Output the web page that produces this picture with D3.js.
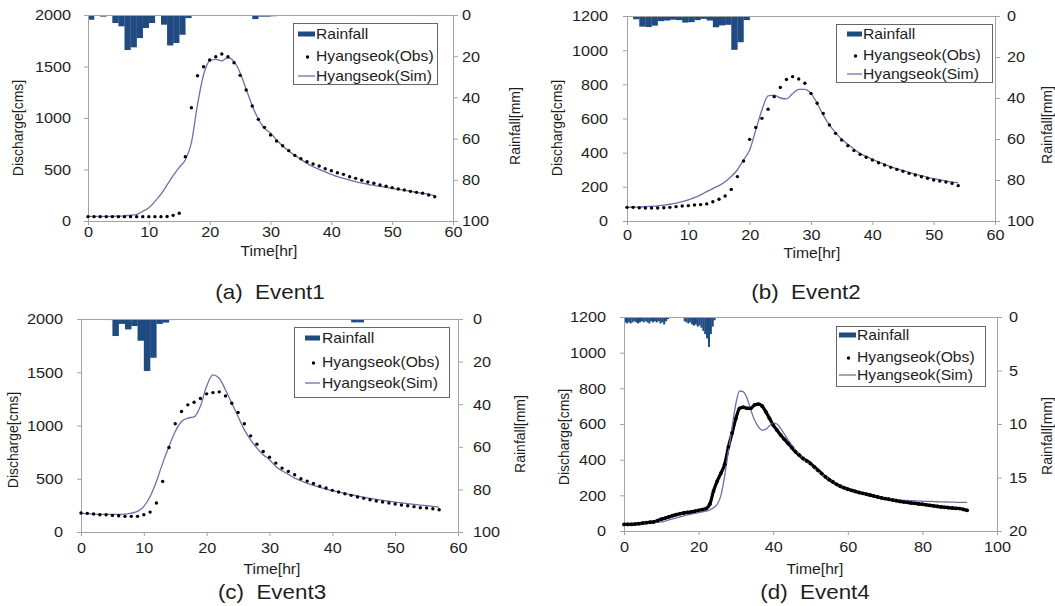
<!DOCTYPE html>
<html><head><meta charset="utf-8">
<script src="https://cdn.jsdelivr.net/npm/d3@7"></script>
<style>
body{margin:0;background:#fff;}
svg text{font-family:"Liberation Sans",Arial,sans-serif;fill:#1e1e1e;white-space:pre;}
</style></head><body>
<svg id="c" width="1055" height="606"></svg>
<script>
// ---------------- DATA ----------------
const legendLabels = ["Rainfall", "Hyangseok(Obs)", "Hyangseok(Sim)"];
const subTitles = ["(a)  Event1", "(b)  Event2", "(c)  Event3", "(d)  Event4"];
const xTitle = "Time[hr]", yTitle = "Discharge[cms]", rTitle = "Rainfall[mm]";
const qTicks2000 = [0, 500, 1000, 1500, 2000];
const qTicks1200 = [0, 200, 400, 600, 800, 1000, 1200];
const tTicks60 = [0, 10, 20, 30, 40, 50, 60];
const tTicks100 = [0, 20, 40, 60, 80, 100];
const rTicks100 = [0, 20, 40, 60, 80, 100];
const rTicks20 = [0, 5, 10, 15, 20];

// Event1 (hourly from 0 hr)
const e1Rain = [2.3,0,0.8,0.2,3.9,5.5,17.0,15.7,11.2,6.3,3.9,0,4.7,14.8,13.6,9.6,1.5,0.2,0,0,0.4,0.2,0,0.2,0.3,0.2,0,2.0,0.8,0.8,0.6,0.3,
  0,0,0,0,0,0,0,0,0,0,0,0,0,0,0,0,0,0,0,0,0,0,0.5,0.5,0.5,0.4,0.3];
const e1Obs = [42,42,42,42,42,42,42,42,42,42,42,42,42,44,55,75,625,1100,1410,1498,1563,1595,1621,1595,1537,1414,1272,1116,987,909,
  835,777,731,683,637,605,576,553,534,508,489,469,453,430,414,395,379,366,350,337,324,311,301,288,278,269,252,236];
const e1Sim = [45,45,45,45,46,47,50,56,65,95,128,190,260,350,440,520,595,760,1130,1420,1555,1570,1555,1585,1550,1440,1280,1120,990,900,
  855,786,728,680,637,599,560,527,501,476,453,430,414,398,382,369,356,346,337,327,317,307,298,288,278,269,259,246];

// Event2
const e2Rain = [0.4,1.6,5.2,5.4,4.7,2.5,2.2,1.8,2.0,3.2,3.0,2.0,1.4,2.2,5.5,4.6,4.3,16.5,12.8,2.0,0.5,0.2,0.2];
const e2Obs = [80,80,77,76,76,76,78,80,84,88,90,94,96,100,113,127,146,185,260,351,478,548,601,654,728,782,829,845,831,806,
  747,689,630,562,513,474,441,412,390,373,357,341,328,314,302,291,279,269,259,250,240,234,228,220,207];
const e2Sim = [80,81,82,84,86,88,93,98,105,113,124,137,153,172,190,207,230,260,300,357,416,533,650,732,737,720,715,745,771,771,
  747,689,620,562,517,478,449,421,396,378,361,346,332,318,306,295,285,275,265,256,248,241,234,229,224];

// Event3
const e3Rain = [0,0,0,0.3,0.5,8.0,2.3,4.9,3.3,10.2,24.4,18.2,2.3,1.7,0.5,0.2,
  0,0,0,0,0,0,0,0,0,0,0,0,0,0,0,0,0,0,0,0,0,0,0,0,0,0,0,1.6,1.6,0];
const e3Obs = [178,175,169,162,162,156,153,147,147,147,162,187,272,475,794,1016,1131,1194,1219,1253,1297,1309,1316,1278,1209,1122,1016,903,825,756,
  703,647,600,569,538,500,478,456,431,413,391,375,359,344,328,316,303,291,281,272,263,253,247,238,228,225,219,209];
const e3Sim = [178,172,168,166,165,165,166,168,178,194,240,334,475,647,803,944,1038,1070,1080,1180,1370,1475,1444,1334,1209,1084,959,866,788,725,
  678,616,575,541,506,481,456,438,419,403,388,375,363,350,338,327,316,306,297,289,281,273,266,259,253,247,241,234];

// Event4 (rainfall every 0.5 hr, discharge hourly)
const e4RainStep = 0.5;
const e4Rain = [0.5,0.6,0.5,0.6,0.5,0.4,0.5,0.6,0.5,0.4,0.5,0.4,0.5,0.6,0.4,0.5,0.4,0.5,0.4,0.6,0.5,0.7,0.4,0.2,
  0.1,0.1,0,0.05,0,0,0,0,
  0.4,0.5,0.6,0.5,0.7,0.8,0.7,0.9,0.8,1.0,1.3,1.6,2.0,2.8,1.6,0.9,0.3];
const e4Obs = [37,37,37,39,41,44,47,49,51,58,66,72,79,86,92,97,101,104,107,111,116,120,126,150,225,280,325,375,472,550,
  632,688,694,688,688,707,712,701,669,632,594,566,538,514,491,467,444,425,407,393,379,360,341,322,304,288,275,262,251,242,
  234,228,222,216,211,206,201,196,191,186,182,178,174,170,166,163,160,157,155,152,150,147,144,141,138,135,133,131,129,127,126,121,116];
const e4Sim = [37,37,37,38,39,41,43,45,48,50,51,56,62,68,74,79,85,90,95,99,103,107,112,118,130,150,200,310,450,585,
  715,785,780,744,679,622,585,566,570,590,605,600,576,543,510,482,454,430,407,388,369,350,332,318,304,290,278,265,252,240,
  229,224,218,213,208,204,200,196,192,189,186,183,180,177,175,172,171,170,169,168,167,166,166,165,164,163,163,162,162,161,161,161,161];

// ---------------- DRAWING ----------------
const svg = d3.select("#c");
const SX = 1.12;
const RAIN = "#1f4b80", SIM = "#7d69a8", AX = "#a3a3a3";
const fmt = d3.format("d");

function stext(x, y, str, size, anchor, sx) {
  return svg.append("text")
    .attr("transform", `translate(${x},${y}) scale(${sx || SX},1)`)
    .attr("text-anchor", anchor || "start")
    .attr("xml:space", "preserve")
    .style("font-size", size + "px").text(str);
}
function vtext(cx, cy, str, size) {
  return svg.append("text")
    .attr("transform", `translate(${cx + size * 0.35},${cy}) rotate(-90)`)
    .attr("text-anchor", "middle").style("font-size", size + "px").text(str);
}

function panel(c, rain, rainStep, obs, sim, thickObs) {
  const g = svg.append("g");
  const x = d3.scaleLinear().domain([0, c.xMax]).range([c.L, c.R]);
  const y = d3.scaleLinear().domain([0, c.yMax]).range([c.B, c.T]);
  const yr = d3.scaleLinear().domain([0, c.rMax]).range([c.T, c.B]);

  // rainfall bars hanging from top
  g.append("g").selectAll("rect").data(rain).join("rect")
    .attr("x", (v, i) => x(i * rainStep))
    .attr("width", (v, i) => x((i + 1) * rainStep) - x(i * rainStep) + 0.2)
    .attr("y", c.T).attr("height", v => yr(v) - c.T)
    .attr("fill", RAIN);

  // axes
  const fontSz = 14.5;
  const ax = (sel) => {
    sel.attr("font-family", null).attr("font-size", null);
    sel.selectAll("path.domain").attr("stroke", AX);
    sel.selectAll(".tick line").attr("stroke", AX);
    sel.selectAll(".tick text").style("font-size", fontSz + "px").attr("x", 0).attr("y", 0).attr("dy", "0.34em");
  };
  const gl = g.append("g").attr("transform", `translate(${c.L},0)`)
    .call(d3.axisLeft(y).tickValues(c.qTicks).tickFormat(fmt).tickSize(4).tickSizeOuter(0)).call(ax);
  gl.selectAll(".tick text").attr("transform", `translate(${-c.gapL},0) scale(${SX},1)`);

  const gb = g.append("g").attr("transform", `translate(0,${c.B})`)
    .call(d3.axisBottom(x).tickValues(c.tTicks).tickFormat(fmt).tickSize(4).tickSizeOuter(0)).call(ax);
  gb.selectAll(".tick text").attr("transform", `translate(0,${c.gapB}) scale(${SX},1)`);

  const gr = g.append("g").attr("transform", `translate(${c.R},0)`)
    .call(d3.axisRight(yr).tickValues(c.rTicks).tickFormat(fmt).tickSize(5).tickSizeOuter(0)).call(ax);
  gr.selectAll(".tick text").attr("transform", `translate(${c.gapR},0) scale(${SX},1)`);

  g.append("line").attr("x1", c.L).attr("x2", c.R).attr("y1", c.T + 0.5).attr("y2", c.T + 0.5)
    .attr("stroke", AX);

  const line = d3.line().x((v, i) => x(i)).y(v => y(v)).curve(d3.curveMonotoneX);
  if (thickObs) {
    g.append("path").datum(obs).attr("d", line).attr("fill", "none")
      .attr("stroke", "#000").attr("stroke-width", 3.2).attr("stroke-linejoin", "round");
  }
  g.append("path").datum(sim).attr("d", line).attr("fill", "none")
    .attr("stroke", SIM).attr("stroke-width", 1.3);
  g.append("g").selectAll("circle").data(obs).join("circle")
    .attr("cx", (v, i) => x(i)).attr("cy", v => y(v)).attr("r", thickObs ? 1.9 : 1.7).attr("fill", "#000");

  // titles
  vtext(c.yTx, c.yTy, yTitle, 14);
  vtext(c.rTx, c.rTy, rTitle, 14);
  stext(c.tX, c.tY, xTitle, 14, "middle");
  stext(c.sX, c.sY, c.sub, 20, "middle", 1.12);

  // legend
  const lg = c.leg;
  svg.append("rect").attr("x", lg.box[0] + 0.5).attr("y", lg.box[1] + 0.5)
    .attr("width", lg.box[2]).attr("height", lg.box[3])
    .attr("fill", "#fff").attr("stroke", "#666").attr("stroke-width", 1);
  const sw = lg.sw;
  svg.append("rect").attr("x", sw[0]).attr("width", sw[1] - sw[0])
    .attr("y", lg.rows[0] - 2.5).attr("height", 5).attr("fill", RAIN);
  svg.append("circle").attr("cx", (sw[0] + sw[1]) / 2 + 1).attr("cy", lg.rows[1] + 1).attr("r", 1.7).attr("fill", "#000");
  svg.append("line").attr("x1", sw[0]).attr("x2", sw[1]).attr("y1", lg.rows[2]).attr("y2", lg.rows[2])
    .attr("stroke", SIM).attr("stroke-width", 1.3);
  legendLabels.forEach((s, i) => {
    stext(lg.tx, lg.rows[i], s, 14).attr("dy", "0.36em");
  });
}

panel({L:88, R:453, T:15, B:221, xMax:60, yMax:2000, rMax:100,
  qTicks:qTicks2000, tTicks:tTicks60, rTicks:rTicks100, gapL:17, gapB:11, gapR:9,
  yTx:18, yTy:128, rTx:515, rTy:126, tX:269, tY:256, sX:270, sY:299, sub:subTitles[0],
  leg:{box:[293,23,144,61], rows:[34,56,76], sw:[298,315], tx:316}},
  e1Rain, 1, e1Obs, e1Sim, false);

panel({L:627, R:995, T:16, B:221, xMax:60, yMax:1200, rMax:100,
  qTicks:qTicks1200, tTicks:tTicks60, rTicks:rTicks100, gapL:19, gapB:14, gapR:12,
  yTx:557, yTy:128, rTx:1047, rTy:125, tX:812, tY:258, sX:806, sY:299, sub:subTitles[1],
  leg:{box:[836,24,156,58], rows:[34,55,74], sw:[847,862], tx:863}},
  e2Rain, 1, e2Obs, e2Sim, false);

panel({L:81, R:458, T:319, B:532, xMax:60, yMax:2000, rMax:100,
  qTicks:qTicks2000, tTicks:tTicks60, rTicks:rTicks100, gapL:18, gapB:16, gapR:15,
  yTx:13, yTy:440, rTx:520, rTy:434, tX:272, tY:574, sX:272, sY:599, sub:subTitles[2],
  leg:{box:[294,327,155,70], rows:[338,362,383], sw:[305,320], tx:322}},
  e3Rain, 1, e3Obs, e3Sim, false);

panel({L:624, R:997, T:317, B:531, xMax:100, yMax:1200, rMax:20,
  qTicks:qTicks1200, tTicks:tTicks100, rTicks:rTicks20, gapL:18, gapB:16, gapR:12,
  yTx:564, yTy:437, rTx:1047, rTy:436, tX:815, tY:574, sX:815, sY:599, sub:subTitles[3],
  leg:{box:[836,326,149,60], rows:[335,357,375], sw:[839,856], tx:857}},
  e4Rain, e4RainStep, e4Obs, e4Sim, true);
</script>
</body></html>
